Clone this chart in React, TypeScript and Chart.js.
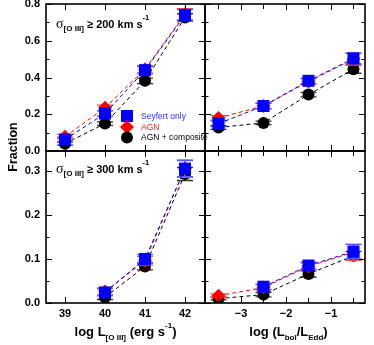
import React, { useEffect, useRef } from 'react';
import { Chart, registerables } from 'chart.js';
Chart.register(...registerables);

const SERIES = ['Seyfert only', 'AGN', 'AGN + composite'];
const COLORS = ['#0000ff', '#ff0000', '#000000'];
const ERR_COLORS = ['#5a5aff', '#ff4a4a', '#333333'];
const STYLES = ['rect', 'rectRot', 'circle'];
const RADII = [8.5, 7, 6];

// x positions
const lo3X = [39, 40, 41, 42];
const eddX = [-3.5, -2.5, -1.5, -0.5];

// tick labels
const lo3Ticks = [39, 40, 41, 42];
const eddTicks = [-3, -2, -1];
const eddMinor = [-3.5, -2.5, -1.5, -0.5];
const yTicks200 = [0, 0.2, 0.4, 0.6, 0.8];
const yMinor200 = [0.1, 0.3, 0.5, 0.7];
const yTicks300 = [0, 0.1, 0.2, 0.3];
const yMinor300 = [0.05, 0.15, 0.25];

// sigma >= 200, vs L[O III]
const sey200L = [0.062, 0.204, 0.44, 0.74];
const agn200L = [0.078, 0.235, 0.445, 0.745];
const comp200L = [0.04, 0.149, 0.382, 0.727];
const sey200LErr = [0.012, 0.015, 0.02, 0.03];
const agn200LErr = [0.012, 0.015, 0.02, 0.03];
const comp200LErr = [0.008, 0.01, 0.015, 0.02];

// sigma >= 200, vs Lbol/LEdd
const sey200E = [0.149, 0.245, 0.382, 0.504];
const agn200E = [0.18, 0.245, 0.378, 0.5];
const comp200E = [0.128, 0.153, 0.307, 0.445];
const sey200EErr = [0.015, 0.015, 0.015, 0.028];
const agn200EErr = [0.012, 0.015, 0.015, 0.032];
const comp200EErr = [0.01, 0.01, 0.012, 0.022];

// sigma >= 300, vs L[O III]
const sey300L = [null, 0.024, 0.1, 0.305];
const agn300L = [null, 0.026, 0.096, 0.305];
const comp300L = [null, 0.013, 0.083, 0.293];
const sey300LErr = [0, 0.008, 0.01, 0.018];
const agn300LErr = [0, 0.008, 0.01, 0.02];
const comp300LErr = [0, 0.005, 0.008, 0.015];

// sigma >= 300, vs Lbol/LEdd
const sey300E = [null, 0.037, 0.085, 0.117];
const agn300E = [0.0166, 0.035, 0.083, 0.115];
const comp300E = [0.01, 0.019, 0.066, 0.107];
const sey300EErr = [0, 0.006, 0.008, 0.016];
const agn300EErr = [0.004, 0.006, 0.008, 0.018];
const comp300EErr = [0.003, 0.005, 0.007, 0.01];

const W = 374;
const H = 345;
const FAM = '"Liberation Sans", Arial, sans-serif';

type Seg = { t: string; font: string; dy?: number; color?: string };

function drawRich(ctx: CanvasRenderingContext2D, segs: Seg[], x: number, y: number, align: 'left' | 'center' = 'left') {
  ctx.save();
  ctx.textBaseline = 'alphabetic';
  ctx.textAlign = 'left';
  let total = 0;
  for (const s of segs) {
    ctx.font = s.font;
    total += ctx.measureText(s.t).width;
  }
  let cx = align === 'center' ? x - total / 2 : x;
  for (const s of segs) {
    ctx.font = s.font;
    ctx.fillStyle = s.color || '#000';
    ctx.fillText(s.t, cx, y + (s.dy || 0));
    cx += ctx.measureText(s.t).width;
  }
  ctx.restore();
}

function sigmaLabel(val: string): Seg[] {
  return [
    { t: 'σ', font: `14px "Liberation Serif", serif` },
    { t: '[O III]', font: `bold 8px ${FAM}`, dy: 3 },
    { t: ' ≥ ' + val + ' km s', font: `bold 11px ${FAM}` },
    { t: '-1', font: `bold 7.5px ${FAM}`, dy: -8 },
  ];
}

interface PanelCfg {
  area: [number, number, number, number];
  xs: number[];
  xMin: number;
  xMax: number;
  xTicks: number[];
  xMinor: number[];
  showX: boolean;
  xFmt: (v: number) => string;
  yMin: number;
  yMax: number;
  yTicks: number[];
  yMinor: number[];
  showY: boolean;
  series: (number | null)[][];
  errs: number[][];
  extra?: (ctx: CanvasRenderingContext2D) => void;
}

const PANELS: PanelCfg[] = [
  {
    area: [46, 4, 205, 151],
    xs: lo3X, xMin: 38.525, xMax: 42.5, xTicks: lo3Ticks, xMinor: [], showX: false, xFmt: (v) => String(v),
    yMin: 0, yMax: 0.8, yTicks: yTicks200, yMinor: yMinor200, showY: true,
    series: [sey200L, agn200L, comp200L], errs: [sey200LErr, agn200LErr, comp200LErr],
    extra: (ctx) => {
      drawRich(ctx, sigmaLabel('200'), 56, 27.5);
      // legend
      const rows = [116, 127, 137.5];
      const mx = 127;
      ctx.save();
      // square
      ctx.fillStyle = COLORS[0];
      ctx.fillRect(mx - 6, rows[0] - 6, 12, 12);
      // diamond
      ctx.fillStyle = COLORS[1];
      ctx.beginPath();
      ctx.moveTo(mx, rows[1] - 7);
      ctx.lineTo(mx + 7, rows[1]);
      ctx.lineTo(mx, rows[1] + 7);
      ctx.lineTo(mx - 7, rows[1]);
      ctx.closePath();
      ctx.fill();
      // circle
      ctx.fillStyle = COLORS[2];
      ctx.beginPath();
      ctx.arc(mx, rows[2], 6, 0, Math.PI * 2);
      ctx.fill();
      ctx.font = `8.5px ${FAM}`;
      ctx.textBaseline = 'middle';
      ctx.textAlign = 'left';
      const tc = ['#2b2bff', '#ff1a1a', '#000'];
      SERIES.forEach((s, i) => {
        ctx.fillStyle = tc[i];
        ctx.fillText(s, 141, rows[i] + 0.5);
      });
      ctx.restore();
      // Fraction
      ctx.save();
      ctx.translate(14, 147);
      ctx.rotate(-Math.PI / 2);
      ctx.font = `bold 12.5px ${FAM}`;
      ctx.textAlign = 'center';
      ctx.textBaseline = 'middle';
      ctx.fillStyle = '#000';
      ctx.fillText('Fraction', 0, 0);
      ctx.restore();
    },
  },
  {
    area: [205, 4, 365, 151],
    xs: eddX, xMin: -3.8, xMax: -0.244, xTicks: eddTicks, xMinor: eddMinor, showX: false, xFmt: (v) => (v < 0 ? '−' + Math.abs(v) : String(v)),
    yMin: 0, yMax: 0.8, yTicks: yTicks200, yMinor: yMinor200, showY: false,
    series: [sey200E, agn200E, comp200E], errs: [sey200EErr, agn200EErr, comp200EErr],
  },
  {
    area: [46, 151, 205, 303],
    xs: lo3X, xMin: 38.525, xMax: 42.5, xTicks: lo3Ticks, xMinor: [], showX: true, xFmt: (v) => String(v),
    yMin: 0, yMax: 0.345, yTicks: yTicks300, yMinor: yMinor300, showY: true,
    series: [sey300L, agn300L, comp300L], errs: [sey300LErr, agn300LErr, comp300LErr],
    extra: (ctx) => {
      drawRich(ctx, sigmaLabel('300'), 56, 173);
      drawRich(ctx, [
        { t: 'log L', font: `bold 13px ${FAM}` },
        { t: '[O III]', font: `bold 8px ${FAM}`, dy: 4 },
        { t: ' (erg s', font: `bold 13px ${FAM}` },
        { t: '-1', font: `bold 8px ${FAM}`, dy: -8 },
        { t: ')', font: `bold 13px ${FAM}` },
      ], 125.5, 336, 'center');
    },
  },
  {
    area: [205, 151, 365, 303],
    xs: eddX, xMin: -3.8, xMax: -0.244, xTicks: eddTicks, xMinor: eddMinor, showX: true, xFmt: (v) => (v < 0 ? '−' + Math.abs(v) : String(v)),
    yMin: 0, yMax: 0.345, yTicks: yTicks300, yMinor: yMinor300, showY: false,
    series: [sey300E, agn300E, comp300E], errs: [sey300EErr, agn300EErr, comp300EErr],
    extra: (ctx) => {
      drawRich(ctx, [
        { t: 'log (L', font: `bold 13px ${FAM}` },
        { t: 'bol', font: `bold 8px ${FAM}`, dy: 4 },
        { t: '/L', font: `bold 13px ${FAM}` },
        { t: 'Edd', font: `bold 8px ${FAM}`, dy: 4 },
        { t: ')', font: `bold 13px ${FAM}` },
      ], 288.5, 336, 'center');
    },
  },
];

function makeChart(canvas: HTMLCanvasElement, cfg: PanelCfg) {
  const [l, t, r, b] = cfg.area;
  const datasets = cfg.series.map((vals, i) => ({
    label: SERIES[i],
    data: cfg.xs.map((xv, j) => ({ x: xv, y: vals[j] })),
    errors: cfg.errs[i],
    borderColor: COLORS[i],
    backgroundColor: COLORS[i],
    borderWidth: 1,
    borderDash: [4, 3],
    pointStyle: STYLES[i],
    pointRadius: RADII[i],
    pointBorderWidth: 0,
    pointBackgroundColor: COLORS[i],
    spanGaps: false,
    tension: 0,
    fill: false,
  }));

  const plugin = {
    id: 'panelDeco',
    beforeDatasetDraw(chart: any, args: any) {
      const ctx: CanvasRenderingContext2D = chart.ctx;
      const ds: any = chart.data.datasets[args.index];
      const ys = chart.scales.y;
      ctx.save();
      ctx.strokeStyle = ERR_COLORS[args.index];
      ctx.lineWidth = 1.3;
      args.meta.data.forEach((pt: any, j: number) => {
        const raw = ds.data[j];
        if (raw.y == null) return;
        const e = ds.errors[j] || 0;
        const y1 = ys.getPixelForValue(raw.y + e);
        const y2 = ys.getPixelForValue(raw.y - e);
        const x = pt.x;
        ctx.beginPath();
        ctx.moveTo(x, y1);
        ctx.lineTo(x, y2);
        ctx.moveTo(x - 8, y1);
        ctx.lineTo(x + 8, y1);
        ctx.moveTo(x - 8, y2);
        ctx.lineTo(x + 8, y2);
        ctx.stroke();
      });
      ctx.restore();
    },
    afterDraw(chart: any) {
      const ctx: CanvasRenderingContext2D = chart.ctx;
      const { left, top, right, bottom } = chart.chartArea;
      const xs = chart.scales.x;
      const ys = chart.scales.y;
      ctx.save();
      ctx.strokeStyle = '#000';
      ctx.lineWidth = 1;
      ctx.beginPath();
      const tickX = (v: number, len: number) => {
        const p = Math.round(xs.getPixelForValue(v)) + 0.5;
        ctx.moveTo(p, bottom);
        ctx.lineTo(p, bottom - len);
        ctx.moveTo(p, top);
        ctx.lineTo(p, top + len);
      };
      const tickY = (v: number, len: number) => {
        const p = Math.round(ys.getPixelForValue(v)) + 0.5;
        ctx.moveTo(left, p);
        ctx.lineTo(left + len, p);
        ctx.moveTo(right, p);
        ctx.lineTo(right - len, p);
      };
      cfg.xTicks.forEach((v) => tickX(v, 6));
      cfg.xMinor.forEach((v) => tickX(v, 5));
      cfg.yTicks.forEach((v) => tickY(v, 6));
      cfg.yMinor.forEach((v) => tickY(v, 3.5));
      ctx.stroke();
      ctx.lineWidth = 1.6;
      ctx.strokeRect(left, top, right - left, bottom - top);
      ctx.restore();
      if (cfg.extra) cfg.extra(ctx);
    },
  };

  return new Chart(canvas, {
    type: 'line',
    data: { datasets } as any,
    options: {
      responsive: false,
      animation: false,
      events: [],
      layout: { autoPadding: false, padding: { left: cfg.showY ? 0 : l, top: t, right: W - r, bottom: cfg.showX ? 0 : H - b } } as any,
      plugins: { legend: { display: false }, tooltip: { enabled: false } },
      scales: {
        x: {
          type: 'linear',
          min: cfg.xMin,
          max: cfg.xMax,
          display: cfg.showX,
          afterBuildTicks: (s: any) => { s.ticks = cfg.xTicks.map((v) => ({ value: v })); },
          afterFit: cfg.showX ? (s: any) => { s.height = H - b; s.paddingLeft = 0; s.paddingRight = 0; } : undefined,
          grid: { display: false, drawTicks: false },
          border: { display: false },
          ticks: {
            autoSkip: false,
            maxRotation: 0,
            padding: 4,
            color: '#000',
            font: { family: FAM, size: 11, weight: 'bold' },
            callback: (v: any) => cfg.xFmt(Number(v)),
          },
        },
        y: {
          type: 'linear',
          min: cfg.yMin,
          max: cfg.yMax,
          display: cfg.showY,
          afterBuildTicks: (s: any) => { s.ticks = cfg.yTicks.map((v) => ({ value: v })); },
          afterFit: cfg.showY ? (s: any) => { s.width = l; s.paddingTop = 0; s.paddingBottom = 0; } : undefined,
          grid: { display: false, drawTicks: false },
          border: { display: false },
          ticks: {
            padding: 6,
            color: '#000',
            font: { family: FAM, size: 11, weight: 'bold' },
            callback: (v: any) => Number(v).toFixed(1),
          },
        },
      },
    } as any,
    plugins: [plugin],
  });
}

export default function App() {
  const refs = [useRef<HTMLCanvasElement>(null), useRef<HTMLCanvasElement>(null), useRef<HTMLCanvasElement>(null), useRef<HTMLCanvasElement>(null)];
  useEffect(() => {
    const charts = PANELS.map((cfg, i) => makeChart(refs[i].current as HTMLCanvasElement, cfg));
    return () => charts.forEach((c) => c.destroy());
  }, []);
  return (
    <div style={{ position: 'fixed', left: 0, top: 0, width: W, height: H, background: '#fff' }}>
      {PANELS.map((_, i) => (
        <canvas key={i} ref={refs[i]} width={W} height={H} style={{ position: 'absolute', left: 0, top: 0, width: W, height: H }} />
      ))}
    </div>
  );
}
